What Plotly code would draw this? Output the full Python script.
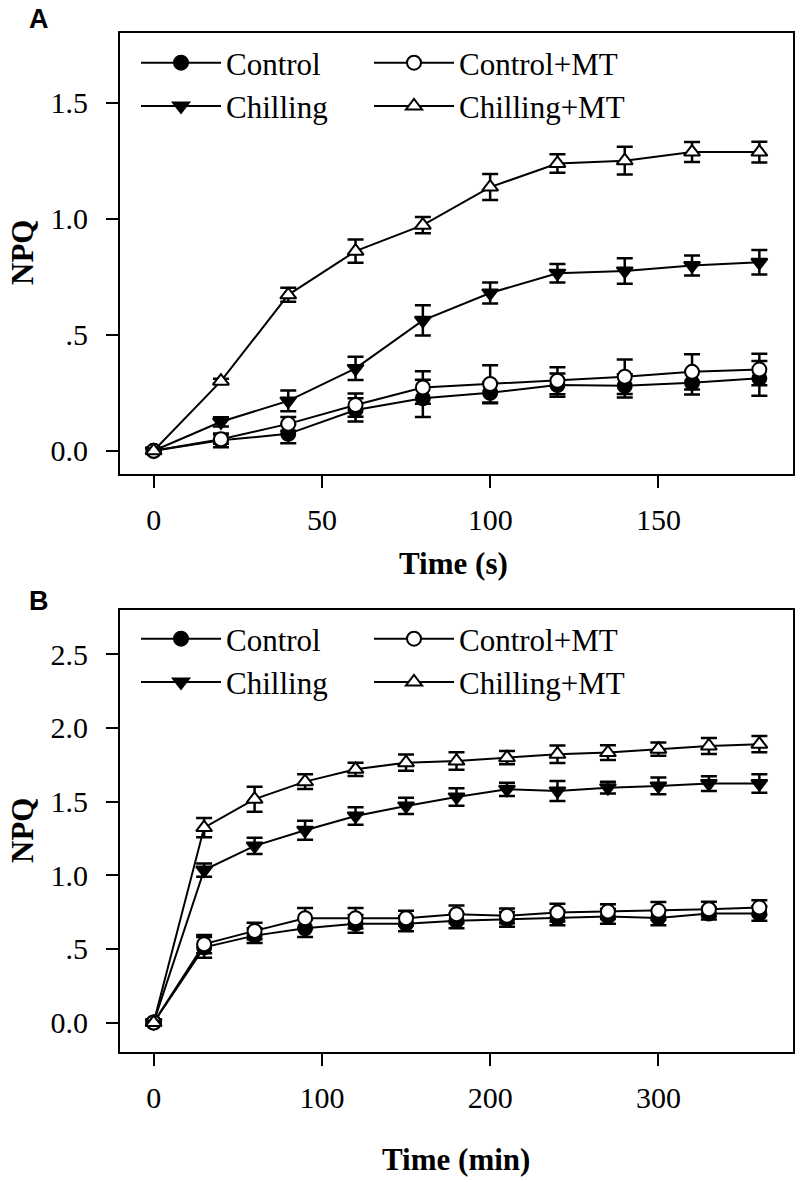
import plotly.graph_objects as go

# ---------------- data ----------------
time_a = [0, 20, 40, 60, 80, 100, 120, 140, 160, 180]
ctrl_a = [0.0, 0.045, 0.073, 0.176, 0.226, 0.250, 0.283, 0.280, 0.293, 0.312]
ctrl_a_err = [0.01, 0.03, 0.04, 0.05, 0.08, 0.045, 0.05, 0.05, 0.05, 0.075]
ctrlmt_a = [0.0, 0.05, 0.116, 0.197, 0.273, 0.288, 0.302, 0.319, 0.340, 0.350]
ctrlmt_a_err = [0.01, 0.02, 0.03, 0.05, 0.07, 0.08, 0.058, 0.074, 0.076, 0.068]
chill_a = [0.0, 0.125, 0.215, 0.355, 0.562, 0.680, 0.765, 0.775, 0.798, 0.812]
chill_a_err = [0.01, 0.02, 0.045, 0.05, 0.065, 0.045, 0.04, 0.055, 0.043, 0.053]
chillmt_a = [0.0, 0.300, 0.672, 0.860, 0.972, 1.136, 1.238, 1.250, 1.287, 1.287]
chillmt_a_err = [0.01, 0.01, 0.03, 0.05, 0.035, 0.056, 0.04, 0.06, 0.043, 0.045]

time_b = [0, 30, 60, 90, 120, 150, 180, 210, 240, 270, 300, 330, 360]
ctrl_b = [0.0, 0.51, 0.59, 0.64, 0.67, 0.67, 0.69, 0.70, 0.71, 0.72, 0.71, 0.74, 0.74]
ctrl_b_err = [0.01, 0.07, 0.05, 0.06, 0.06, 0.05, 0.05, 0.05, 0.05, 0.05, 0.05, 0.04, 0.05]
ctrlmt_b = [0.0, 0.532, 0.622, 0.708, 0.708, 0.708, 0.735, 0.724, 0.746, 0.753, 0.758, 0.769, 0.780]
ctrlmt_b_err = [0.01, 0.062, 0.056, 0.07, 0.07, 0.05, 0.06, 0.05, 0.06, 0.05, 0.06, 0.05, 0.05]
chill_b = [0.0, 1.035, 1.199, 1.305, 1.402, 1.470, 1.531, 1.583, 1.572, 1.594, 1.606, 1.622, 1.622]
chill_b_err = [0.01, 0.045, 0.055, 0.065, 0.06, 0.055, 0.06, 0.045, 0.068, 0.04, 0.057, 0.05, 0.063]
chillmt_b = [0.0, 1.323, 1.516, 1.635, 1.719, 1.764, 1.775, 1.798, 1.821, 1.832, 1.855, 1.877, 1.889]
chillmt_b_err = [0.01, 0.065, 0.085, 0.05, 0.045, 0.055, 0.06, 0.045, 0.06, 0.05, 0.045, 0.055, 0.055]

series_names = ["Control", "Control+MT", "Chilling", "Chilling+MT"]

yticks_a = [0.0, 0.5, 1.0, 1.5]
yticktext_a = ["0.0", ".5", "1.0", "1.5"]
xticks_a = [0, 50, 100, 150]
yticks_b = [0.0, 0.5, 1.0, 1.5, 2.0, 2.5]
yticktext_b = ["0.0", ".5", "1.0", "1.5", "2.0", "2.5"]
xticks_b = [0, 100, 200, 300]

# ---------------- styling ----------------
SERIF = "Liberation Serif, Times New Roman, serif"
SANS = "Liberation Sans, Arial, sans-serif"
styles = {
    "Control": dict(symbol="circle", fill="black"),
    "Control+MT": dict(symbol="circle", fill="white"),
    "Chilling": dict(symbol="triangle-down", fill="black"),
    "Chilling+MT": dict(symbol="triangle-up", fill="white"),
}

W, H = 800, 1182

def px(xw):
    return xw / W

def py(yw):
    return 1 - yw / H

fig = go.Figure()

def add_series(x, y, err, name, xa, ya, legend):
    st = styles[name]
    fig.add_trace(go.Scatter(
        x=x, y=y, name=name, mode="lines+markers",
        xaxis=xa, yaxis=ya, legend=legend,
        line=dict(color="black", width=2),
        marker=dict(symbol=st["symbol"], size=14, color=st["fill"],
                    line=dict(color="black", width=2)),
        error_y=dict(type="data", array=err, visible=True,
                     color="black", thickness=2.5, width=8),
    ))

# Panel A
add_series(time_a, ctrl_a, ctrl_a_err, "Control", "x", "y", "legend")
add_series(time_a, chill_a, chill_a_err, "Chilling", "x", "y", "legend")
add_series(time_a, ctrlmt_a, ctrlmt_a_err, "Control+MT", "x", "y", "legend2")
add_series(time_a, chillmt_a, chillmt_a_err, "Chilling+MT", "x", "y", "legend2")
# Panel B
add_series(time_b, ctrl_b, ctrl_b_err, "Control", "x2", "y2", "legend3")
add_series(time_b, chill_b, chill_b_err, "Chilling", "x2", "y2", "legend3")
add_series(time_b, ctrlmt_b, ctrlmt_b_err, "Control+MT", "x2", "y2", "legend4")
add_series(time_b, chillmt_b, chillmt_b_err, "Chilling+MT", "x2", "y2", "legend4")

xdom = [px(120), px(793)]
ydom_a = [py(474), py(33)]
ydom_b = [py(1052), py(610)]

axis_common = dict(
    showline=True, linecolor="black", linewidth=2, mirror=True,
    ticks="outside", ticklen=12, tickwidth=2, tickcolor="black",
    showgrid=False, zeroline=False,
    tickfont=dict(family=SERIF, size=30, color="black"),
    automargin=False,
)

fig.update_layout(
    xaxis=dict(domain=xdom, anchor="y", range=[-10, 190],
               tickmode="array", tickvals=xticks_a, ticklabelstandoff=6, **axis_common),
    yaxis=dict(domain=ydom_a, anchor="x", range=[-0.1, 1.8],
               tickmode="array", tickvals=yticks_a, ticktext=yticktext_a,
               ticklabelstandoff=12, **axis_common),
    xaxis2=dict(domain=xdom, anchor="y2", range=[-20, 380],
                tickmode="array", tickvals=xticks_b, ticklabelstandoff=6, **axis_common),
    yaxis2=dict(domain=ydom_b, anchor="x2", range=[-0.2, 2.8],
                tickmode="array", tickvals=yticks_b, ticktext=yticktext_b,
                ticklabelstandoff=12, **axis_common),
)

leg_common = dict(font=dict(family=SERIF, size=31, color="black"),
                  bgcolor="rgba(0,0,0,0)", borderwidth=0,
                  xanchor="left", yanchor="top", itemwidth=80,
                  tracegroupgap=0, orientation="v")
fig.update_layout(
    legend=dict(x=px(136), y=py(36), **leg_common),
    legend2=dict(x=px(369), y=py(36), **leg_common),
    legend3=dict(x=px(136), y=py(612), **leg_common),
    legend4=dict(x=px(369), y=py(612), **leg_common),
)

annotations = [
    dict(text="<b>A</b>", x=px(27), y=py(19), xanchor="left", yanchor="middle",
         font=dict(family=SANS, size=27, color="black")),
    dict(text="<b>B</b>", x=px(27), y=py(601), xanchor="left", yanchor="middle",
         font=dict(family=SANS, size=27, color="black")),
    dict(text="<b>NPQ</b>", x=px(22), y=py(253), textangle=-90,
         xanchor="center", yanchor="middle",
         font=dict(family=SERIF, size=31, color="black")),
    dict(text="<b>NPQ</b>", x=px(22), y=py(831), textangle=-90,
         xanchor="center", yanchor="middle",
         font=dict(family=SERIF, size=31, color="black")),
    dict(text="<b>Time (s)</b>", x=px(453), y=py(563), xanchor="center", yanchor="middle",
         font=dict(family=SERIF, size=31, color="black")),
    dict(text="<b>Time (min)</b>", x=px(456), y=py(1159), xanchor="center", yanchor="middle",
         font=dict(family=SERIF, size=31, color="black")),
]
for a in annotations:
    a.update(xref="paper", yref="paper", showarrow=False)
fig.update_layout(annotations=annotations)

fig.update_layout(
    width=W, height=H, margin=dict(l=0, r=0, t=0, b=0),
    paper_bgcolor="white", plot_bgcolor="white", showlegend=True,
)

# remove the browser's default 8px body margin so the figure fills the window
fig.write_html("out.html", config={"displayModeBar": False},
               post_script="document.body.style.margin='0px';")
